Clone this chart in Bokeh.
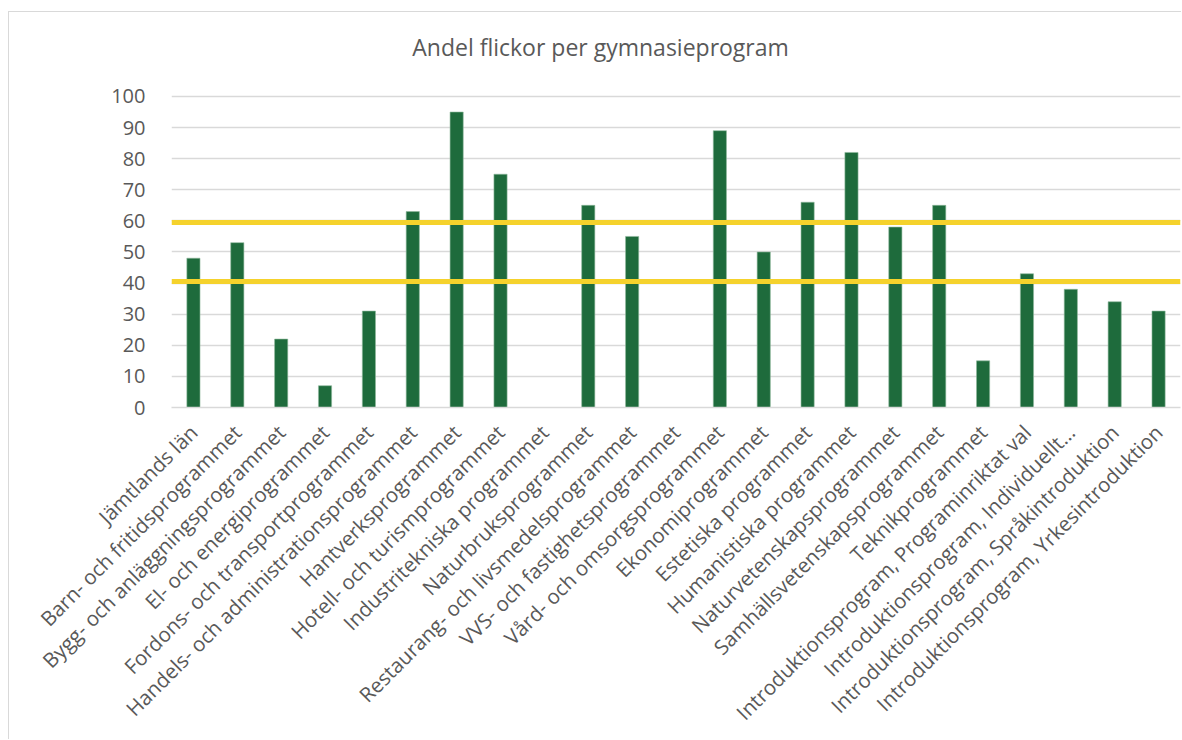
from math import pi
from bokeh.plotting import figure
from bokeh.models import Span, FixedTicker, Range1d, ColumnDataSource, Label
from bokeh.embed import file_html
from bokeh.resources import INLINE

title_text = "Andel flickor per gymnasieprogram"
programs = [
    "Jämtlands län",
    "Barn- och fritidsprogrammet",
    "Bygg- och anläggningsprogrammet",
    "El- och energiprogrammet",
    "Fordons- och transportprogrammet",
    "Handels- och administrationsprogrammet",
    "Hantverksprogrammet",
    "Hotell- och turismprogrammet",
    "Industritekniska programmet",
    "Naturbruksprogrammet",
    "Restaurang- och livsmedelsprogrammet",
    "VVS- och fastighetsprogrammet",
    "Vård- och omsorgsprogrammet",
    "Ekonomiprogrammet",
    "Estetiska programmet",
    "Humanistiska programmet",
    "Naturvetenskapsprogrammet",
    "Samhällsvetenskapsprogrammet",
    "Teknikprogrammet",
    "Introduktionsprogram, Programinriktat val",
    "Introduktionsprogram, Individuellt…",
    "Introduktionsprogram, Språkintroduktion",
    "Introduktionsprogram, Yrkesintroduktion",
]
andel_flickor = [48, 53, 22, 7, 31, 63, 95, 75, 0, 65, 55, 0, 89, 50, 66, 82, 58, 65, 15, 43, 38, 34, 31]
reference_levels = [59.5, 40.5]
y_ticks = [0, 10, 20, 30, 40, 50, 60, 70, 80, 90, 100]

FONT = "Open Sans"
GREY = "#595959"

source = ColumnDataSource(dict(program=programs, andel=andel_flickor))

# the frame extends above 100 to leave room for the chart title inside it
p = figure(
    x_range=programs,
    y_range=Range1d(0, 127),
    width=1173,
    height=728,
    output_backend="svg",
    toolbar_location=None,
    min_border_left=162,
    min_border_right=2,
    min_border_top=0,
    min_border_bottom=333,
)
p.styles = {
    "margin-left": "8px",
    "margin-top": "11px",
    "border-top": "1px solid #d9d9d9",
    "border-left": "1px solid #d9d9d9",
}

p.add_layout(Label(x=9.78, y=115.8, text=title_text, text_align="center",
                   text_baseline="middle", text_font=FONT, text_font_size="23px",
                   text_color=GREY))

p.vbar(x="program", top="andel", width=0.30, source=source,
       fill_color="#1e6b3c", line_color="#8fb89c", line_width=0.6)

for lvl in reference_levels:
    p.add_layout(Span(location=lvl, dimension="width", line_color="#f5d22c", line_width=5))

p.outline_line_color = None
p.background_fill_color = "white"
p.border_fill_color = "white"

p.xgrid.grid_line_color = None
p.ygrid.grid_line_color = "#d9d9d9"
p.ygrid.grid_line_width = 1.3

p.yaxis.ticker = FixedTicker(ticks=y_ticks)
p.yaxis.axis_line_color = None
p.yaxis.major_tick_line_color = None
p.yaxis.minor_tick_line_color = None
p.yaxis.major_label_standoff = 20
p.yaxis.major_label_text_font = FONT
p.yaxis.major_label_text_font_size = "20px"
p.yaxis.major_label_text_color = GREY

p.xaxis.axis_line_color = "#d9d9d9"
p.xaxis.axis_line_width = 1.3
p.xaxis.major_tick_line_color = None
p.xaxis.minor_tick_line_color = None
p.xaxis.major_label_orientation = pi / 4
p.xaxis.major_label_standoff = 15
p.xaxis.major_label_text_font = FONT
p.xaxis.major_label_text_font_size = "20.5px"
p.xaxis.major_label_text_color = GREY

p.x_range.range_padding = 0

open("out.html", "w").write(file_html(p, INLINE))
